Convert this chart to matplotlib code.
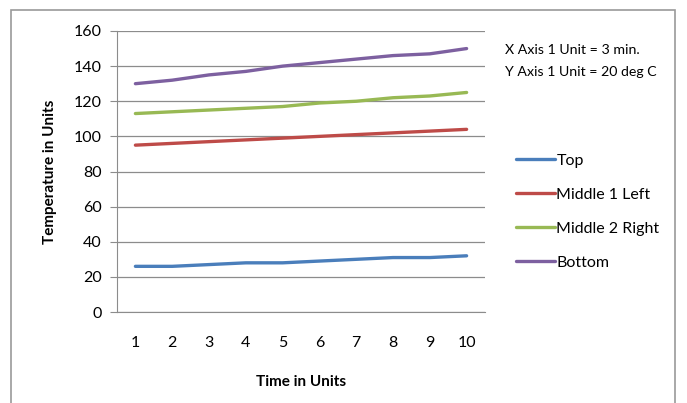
import numpy as np
import matplotlib.pyplot as plt
from matplotlib.patches import Rectangle

plt.rcParams['font.family'] = ['Lato', 'DejaVu Sans']

# Data
time_units = [1, 2, 3, 4, 5, 6, 7, 8, 9, 10]
top = [26, 26, 27, 28, 28, 29, 30, 31, 31, 32]
middle_1_left = [95, 96, 97, 98, 99, 100, 101, 102, 103, 104]
middle_2_right = [113, 114, 115, 116, 117, 119, 120, 122, 123, 125]
bottom = [130, 132, 135, 137, 140, 142, 144, 146, 147, 150]

series = [
    ("Top", top, "#4A7EBB"),
    ("Middle 1 Left", middle_1_left, "#BE4B48"),
    ("Middle 2 Right", middle_2_right, "#98B954"),
    ("Bottom", bottom, "#7D60A0"),
]

W, H = 687, 403
fig = plt.figure(figsize=(W / 100, H / 100), dpi=100)

# outer chart border
fig.patches.append(Rectangle((11 / W, -0.05), (675 - 11) / W, 1.05 - 10 / H,
                             transform=fig.transFigure, fill=False,
                             edgecolor="#9a9a9a", linewidth=1.2))

ax = fig.add_axes([117 / W, 1 - 312 / H, (485 - 117) / W, (312 - 31) / H])

for name, vals, col in series:
    ax.plot(time_units, vals, color=col, linewidth=2.4, label=name,
            solid_capstyle="round")

ax.set_xlim(0.5, 10.5)
ax.set_ylim(0, 160)
ax.set_yticks(np.arange(0, 161, 20))
ax.set_xticks(time_units)
ax.grid(axis="y", color="#8c8c8c", linewidth=0.9)
ax.set_axisbelow(True)
for s in ["top", "right"]:
    ax.spines[s].set_visible(False)
ax.spines["left"].set_color("#8c8c8c")
ax.spines["bottom"].set_color("#8c8c8c")
ax.tick_params(axis="y", length=5, color="#8c8c8c", labelsize=11.5, pad=6)
ax.tick_params(axis="x", length=0, labelsize=11.5, pad=17)

ax.set_ylabel("Temperature in Units", fontsize=11, fontweight="bold", labelpad=12)
ax.set_xlabel("Time in Units", fontsize=11, fontweight="bold", labelpad=18)

fig.text(505 / W, 1 - 50 / H, "X Axis 1 Unit = 3 min.", fontsize=10.2, va="center")
fig.text(505 / W, 1 - 72 / H, "Y Axis 1 Unit = 20 deg C", fontsize=10.2, va="center")

leg = ax.legend(loc="upper left", bbox_to_anchor=(502 / W, 1 - 139 / H),
                bbox_transform=fig.transFigure, frameon=False, fontsize=11.5,
                handlelength=2.4, handletextpad=0.1, labelspacing=1.25)

fig.savefig("out.png", dpi=100)
